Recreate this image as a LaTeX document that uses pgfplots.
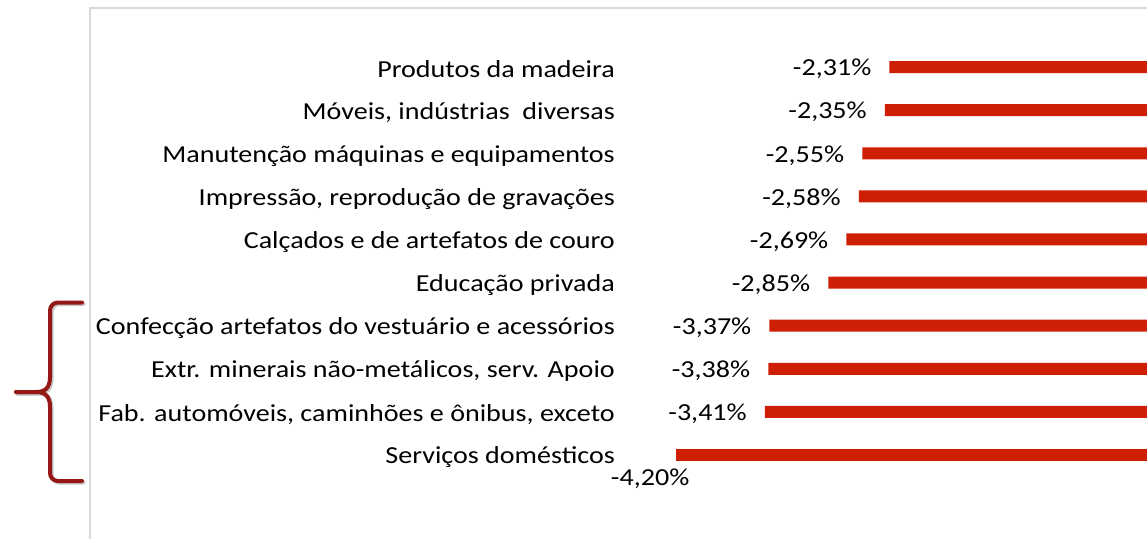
\documentclass[border=0pt]{standalone}
\usepackage{pgfplots}
\pgfplotsset{compat=1.18}
\usepackage{fontspec}
\setmainfont{Carlito}[FakeStretch=1.15]
\definecolor{barred}{RGB}{206,30,4}
\definecolor{bracered}{RGB}{150,24,22}
\definecolor{framegray}{RGB}{217,217,217}
\newcommand{\chfont}{\fontsize{24.4}{28}\selectfont}
\begin{document}
\begin{tikzpicture}[font=\chfont]
\useasboundingbox (0pt,0pt) rectangle (1147pt,539pt);
\fill[white] (0pt,0pt) rectangle (1147pt,539pt);
% chart area frame
\draw[framegray, line width=1.6pt] (90pt,0pt) -- (90pt,531pt) -- (1150pt,531pt);
% brace (shadow + stroke)
\foreach \c/\dx/\dy in {black!22/1.5pt/-1.5pt, bracered/0pt/0pt}{
\draw[\c, line width=4pt, line cap=round, line join=round, rounded corners=8pt, xshift=\dx, yshift=\dy]
  (82pt,236.5pt) -- (50pt,236.5pt) -- (50pt,162pt);
\draw[\c, line width=4pt, line cap=round, line join=round, xshift=\dx, yshift=\dy]
  (50pt,162pt) .. controls (50pt,151pt) and (45pt,147pt) .. (36pt,147pt) -- (16pt,147pt);
\draw[\c, line width=4pt, line cap=round, line join=round, xshift=\dx, yshift=\dy]
  (16pt,147pt) -- (36pt,147pt) .. controls (45pt,147pt) and (50pt,143pt) .. (50pt,132pt);
\draw[\c, line width=4pt, line cap=round, line join=round, rounded corners=8pt, xshift=\dx, yshift=\dy]
  (50pt,132pt) -- (50pt,58pt) -- (82pt,58pt);
}
\begin{axis}[
  at={(618pt,62.4pt)}, anchor=south west,
  scale only axis, width=533pt, height=431.1pt,
  xmin=-4.708, xmax=0, ymin=-0.5, ymax=9.5,
  clip=false,
  axis line style={draw=none},
  major tick length=0pt,
  xtick=\empty,
  ytick={0,...,9},
  yticklabels={Serviços domésticos,
    {Fab. automóveis, caminhões e ônibus, exceto},
    {Extr. minerais não-metálicos, serv. Apoio},
    Confecção artefatos do vestuário e acessórios,
    Educação privada,
    Calçados e de artefatos de couro,
    {Impressão, reprodução de gravações},
    Manutenção máquinas e equipamentos,
    {Móveis, indústrias\ \ diversas},
    Produtos da madeira},
  yticklabel style={anchor=east, inner sep=0pt, xshift=-3pt, yshift=-2.5pt, font=\chfont},
]
\addplot[xbar, bar shift=0pt, bar width=12pt, fill=barred, draw=none,
  point meta=explicit symbolic,
  nodes near coords={\pgfplotspointmeta\%},
  every node near coord/.style={anchor=east, inner sep=0pt, xshift=-18pt, yshift=-2pt, text=black, font=\chfont}]
  table[x=x, y=y, meta=lab] {
x y lab
-2.31 9 -2,31
-2.35 8 -2,35
-2.55 7 -2,55
-2.58 6 -2,58
-2.69 5 -2,69
-2.85 4 -2,85
-3.37 3 -3,37
-3.38 2 -3,38
-3.41 1 -3,41
};
\addplot[xbar, bar shift=0pt, bar width=12pt, fill=barred, draw=none,
  point meta=explicit symbolic,
  nodes near coords={\pgfplotspointmeta\%},
  every node near coord/.style={anchor=north east, inner sep=0pt, xshift=14pt, yshift=-14pt, text=black, font=\chfont}]
  table[x=x, y=y, meta=lab] {
x y lab
-4.20 0 -4,20
};
\end{axis}
\end{tikzpicture}
\end{document}
